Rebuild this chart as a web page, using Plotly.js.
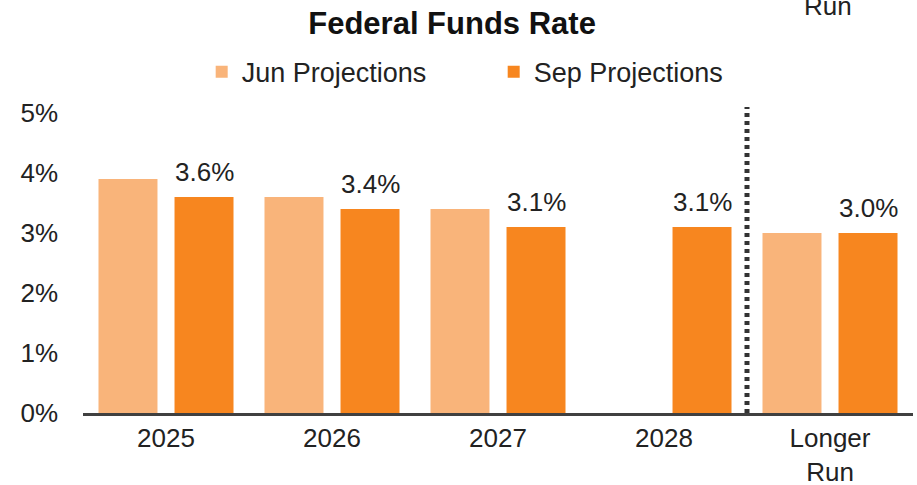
<!DOCTYPE html>
<html>
<head>
<meta charset="utf-8">
<script src="https://cdn.plot.ly/plotly-3.0.1.min.js"></script>
<style>html,body{margin:0;padding:0;background:#fff;}#chart{width:917px;height:485px;}</style>
</head>
<body>
<div id="chart"></div>
<script>
const categories = ['2025', '2026', '2027', '2028', 'Longer<br>Run'];
const junValues = [3.9, 3.6, 3.4, null, 3.0];
const sepValues = [3.6, 3.4, 3.1, 3.1, 3.0];
const seriesNames = ['Jun Projections', 'Sep Projections'];
const yTickVals = [0, 1, 2, 3, 4, 5];
const yTickText = ['0%', '1%', '2%', '3%', '4%', '5%'];

const FONT = 'Liberation Sans, Arial, sans-serif';

const traces = [
  {type: 'bar', name: seriesNames[0], x: categories, y: junValues,
   marker: {color: '#F9B47A'}, hoverinfo: 'skip'},
  {type: 'bar', name: seriesNames[1], x: categories, y: sepValues,
   marker: {color: '#F7861F'}, hoverinfo: 'skip'}
];

const annotations = sepValues.map((v, i) => ({
  x: i, y: v, xref: 'x', yref: 'y',
  text: v.toFixed(1) + '%', showarrow: false,
  xshift: 38, yshift: 8, yanchor: 'bottom',
  font: {family: FONT, size: 26, color: '#222'}
}));
annotations.push({
  x: 0.898, y: 1.33, xref: 'paper', yref: 'paper', text: 'Run',
  showarrow: false, yanchor: 'middle', xanchor: 'center',
  font: {family: FONT, size: 26, color: '#222'}
});

const layout = {
  width: 917, height: 485,
  margin: {l: 83, r: 4, t: 107, b: 72},
  paper_bgcolor: '#fff', plot_bgcolor: '#fff',
  font: {family: FONT, size: 26, color: '#222'},
  title: {text: '<b>Federal Funds Rate</b>', x: 0.493, xanchor: 'center',
          y: 0.953, yanchor: 'middle',
          font: {family: FONT, size: 31, color: '#111'}},
  barmode: 'group', bargap: 0.084, bargroupgap: 0.224,
  showlegend: true,
  legend: {orientation: 'h', x: 0.143, xanchor: 'left', y: 1.114, yanchor: 'middle',
           entrywidth: 247, entrywidthmode: 'pixels',
           font: {family: FONT, size: 27, color: '#222'}, bgcolor: 'rgba(0,0,0,0)'},
  xaxis: {type: 'category', range: [-0.5, 4.5], showgrid: false, zeroline: false,
          showline: true, linecolor: '#404040', linewidth: 3, ticks: '',
          tickfont: {family: FONT, size: 26, color: '#222'}, fixedrange: true},
  yaxis: {range: [0, 5.1], tickvals: yTickVals, ticktext: yTickText,
          showgrid: false, zeroline: false, showline: false, ticks: '',
          ticklabelstandoff: 24,
          tickfont: {family: FONT, size: 26, color: '#222'}, fixedrange: true},
  shapes: [{type: 'line', xref: 'x', yref: 'y', x0: 3.5, x1: 3.5, y0: 0, y1: 5.1,
            line: {color: '#333', width: 5, dash: '4px,4px'}}],
  annotations: annotations
};

Plotly.newPlot('chart', traces, layout, {displayModeBar: false, staticPlot: true});
</script>
</body>
</html>
